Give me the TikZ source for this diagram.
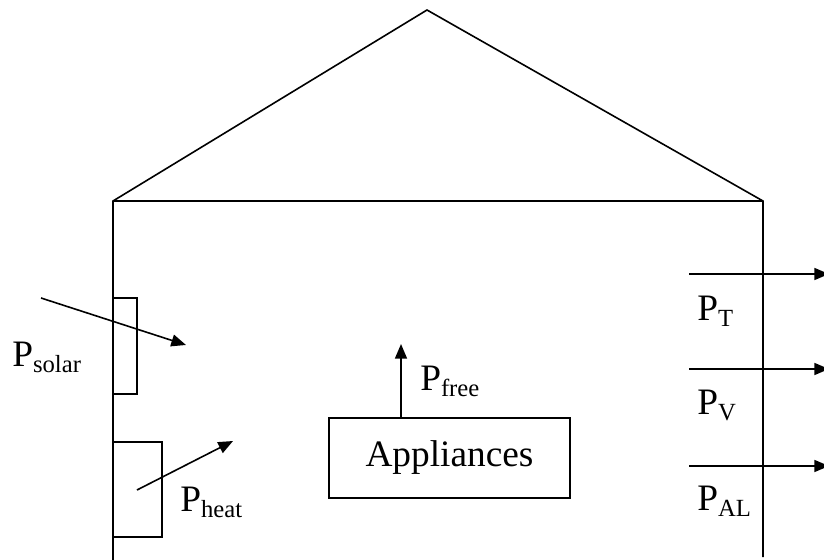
\documentclass[tikz,border=0pt]{standalone}
\usepackage{fontspec}
\setmainfont{Liberation Serif}
\usetikzlibrary{arrows.meta}
\newcommand{\pwr}[1]{P\raisebox{-4.5pt}{\fontsize{18.5}{18.5}\selectfont #1}}
\tikzset{
  flow/.style={-{Triangle[length=11pt,width=9pt]}, line width=1.2pt},
  lbl/.style={inner sep=0pt, anchor=base west, font=\fontsize{28}{32}\selectfont},
  wall/.style={line width=1.2pt},
}
\begin{document}
\begin{tikzpicture}[x=0.75pt,y=-0.75pt]
\useasboundingbox (0,0) rectangle (824,560);
%
% roof and walls
\coordinate (top) at (427,10);
\coordinate (eaveL) at (113,201);
\coordinate (eaveR) at (763,201);
\draw[wall] (113,560) -- (eaveL) -- (top) -- (eaveR) -- (763,557);
\draw[wall] (eaveL) -- (eaveR);
%
% window and heater
\node[draw, wall, inner sep=0pt, minimum width=18pt, minimum height=72pt] (win) at (125,346) {};
\node[draw, wall, inner sep=0pt, minimum width=36.75pt, minimum height=71.25pt] (heater) at (137.5,489.5) {};
\node[draw, wall, inner sep=0pt, minimum width=180.75pt, minimum height=60pt,
  font=\fontsize{28}{32}\selectfont] (app) at (449.5,458) {Appliances};
%
% arrow ends
\coordinate (sunA) at (41,298);
\coordinate (sunB) at (186,345);
\coordinate (heatA) at (137,490);
\coordinate (heatB) at (233,441);
\coordinate (freeB) at (401,344);
\coordinate (tA) at (689,274);
\coordinate (tB) at (829,274);
\coordinate (vA) at (689,369);
\coordinate (vB) at (829,369);
\coordinate (alA) at (689,466);
\coordinate (alB) at (829,466);
%
\draw[flow] (sunA) -- (sunB);
\draw[flow] (heatA) -- (heatB);
\draw[flow] (app.north -| freeB) -- (freeB);
\draw[flow] (tA) -- (tB);
\draw[flow] (vA) -- (vB);
\draw[flow] (alA) -- (alB);
%
% labels
\node[lbl] (solar) at (12,366) {\pwr{solar}};
\node[lbl] (heat) at (180,511) {\pwr{heat}};
\node[lbl] (free) at (420,390) {\pwr{free}};
\node[lbl] (pt) at (697,320) {\pwr{T}};
\node[lbl] (pv) at (697,414) {\pwr{V}};
\node[lbl] (pal) at (697,510) {\pwr{AL}};
%
\end{tikzpicture}
\end{document}
